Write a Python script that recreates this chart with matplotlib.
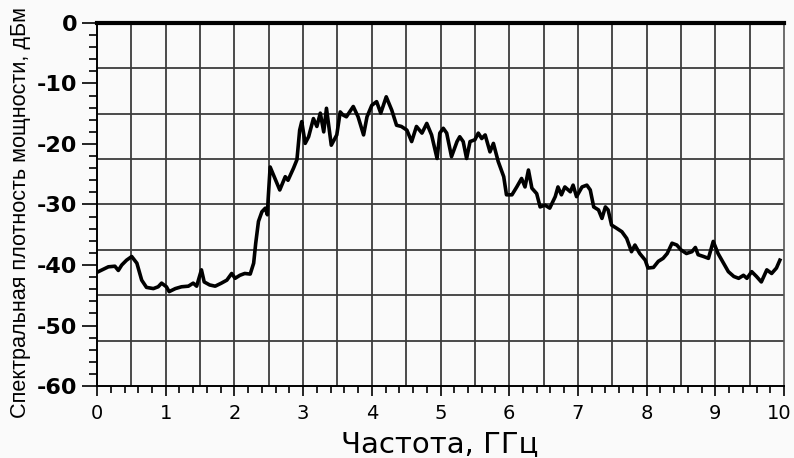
import matplotlib.pyplot as plt
from matplotlib.ticker import MultipleLocator
from matplotlib import font_manager
from matplotlib.transforms import ScaledTranslation

plt.rcParams['axes.unicode_minus'] = False

# Спектр: частота (ГГц) и спектральная плотность мощности (дБм)
freq = [0.02, 0.165, 0.26, 0.31, 0.36, 0.43, 0.505, 0.58, 0.65, 0.72, 0.82, 0.89,
        0.94, 1.01, 1.05, 1.14, 1.23, 1.33, 1.40, 1.45, 1.52, 1.56, 1.64, 1.72,
        1.81, 1.89, 1.96, 2.01, 2.08, 2.15, 2.23, 2.28, 2.31, 2.35, 2.40, 2.45,
        2.48, 2.49, 2.52, 2.59, 2.66, 2.74, 2.78, 2.86, 2.91, 2.95, 2.98, 3.03,
        3.08, 3.15, 3.20, 3.25, 3.30, 3.34, 3.41, 3.49, 3.54, 3.58, 3.63, 3.73,
        3.80, 3.88, 3.93, 4.00, 4.07, 4.13, 4.21, 4.29, 4.36, 4.43, 4.51, 4.58,
        4.65, 4.73, 4.80, 4.87, 4.95, 4.99, 5.04, 5.09, 5.16, 5.24, 5.28, 5.33,
        5.38, 5.43, 5.50, 5.55, 5.60, 5.65, 5.72, 5.77, 5.84, 5.92, 5.96, 6.04,
        6.11, 6.18, 6.23, 6.28, 6.33, 6.40, 6.45, 6.52, 6.59, 6.67, 6.71, 6.76,
        6.81, 6.89, 6.93, 6.98, 7.06, 7.13, 7.18, 7.23, 7.30, 7.35, 7.40, 7.44,
        7.49, 7.56, 7.64, 7.71, 7.78, 7.83, 7.90, 7.98, 8.02, 8.10, 8.17, 8.24,
        8.30, 8.37, 8.44, 8.50, 8.58, 8.66, 8.71, 8.75, 8.83, 8.90, 8.97, 9.04,
        9.12, 9.19, 9.27, 9.34, 9.41, 9.46, 9.53, 9.60, 9.67, 9.75, 9.82, 9.89,
        9.94]
psd = [-41.1, -40.3, -40.2, -40.9, -40.0, -39.2, -38.6, -39.7, -42.5, -43.7, -43.9, -43.6,
       -43.0, -43.6, -44.4, -43.9, -43.6, -43.5, -43.0, -43.5, -40.8, -42.8, -43.3, -43.5,
       -43.0, -42.5, -41.4, -42.2, -41.7, -41.4, -41.5, -39.7, -36.4, -32.8, -31.2, -30.6,
       -31.7, -29.3, -23.8, -25.7, -27.6, -25.4, -26.0, -24.0, -22.6, -17.7, -16.3, -19.9,
       -18.8, -15.8, -17.1, -14.9, -18.0, -14.1, -20.2, -18.5, -14.7, -15.2, -15.5, -13.8,
       -15.5, -18.5, -15.5, -13.6, -13.0, -14.9, -12.2, -14.4, -16.9, -17.1, -17.7, -19.6,
       -17.1, -18.2, -16.6, -18.5, -22.4, -18.2, -17.4, -18.2, -22.1, -19.6, -18.8, -19.6,
       -22.4, -19.6, -19.3, -18.2, -19.1, -18.5, -21.3, -19.9, -22.9, -25.4, -28.4, -28.4,
       -27.1, -25.7, -27.1, -24.3, -27.3, -28.2, -30.4, -30.1, -30.6, -28.7, -27.1, -28.4,
       -27.1, -27.9, -26.8, -28.7, -27.1, -26.8, -27.6, -30.4, -30.9, -32.3, -30.4, -30.9,
       -33.4, -33.9, -34.5, -35.6, -37.8, -36.7, -38.1, -39.2, -40.5, -40.4, -39.4, -38.9,
       -38.1, -36.4, -36.7, -37.5, -38.1, -37.8, -37.1, -38.3, -38.6, -38.9, -36.1, -38.1,
       -39.7, -41.1, -41.9, -42.2, -41.7, -42.2, -41.1, -41.9, -42.8, -40.8, -41.4, -40.5,
       -39.2]

x_ticks = [0, 1, 2, 3, 4, 5, 6, 7, 8, 9, 10]
y_ticks = [0, -10, -20, -30, -40, -50, -60]

names = {f.name for f in font_manager.fontManager.ttflist}
ylab_font = 'Liberation Sans Narrow' if 'Liberation Sans Narrow' in names else 'Liberation Sans'

bg = '#fafafa'
fig = plt.figure(figsize=(7.94, 4.58), dpi=100, facecolor=bg)
ax = fig.add_axes([0.1222, 0.1572, 0.8652, 0.7926], facecolor=bg)

# сетка: вертикальные линии через 0.5 ГГц, горизонтальные через 7.5 дБ
for gx in [0.5 * i for i in range(1, 20)]:
    ax.axvline(gx, color='#3c3c3c', lw=1.3, zorder=1)
for gy in [-7.5 * i for i in range(1, 8)]:
    ax.axhline(gy, color='#3c3c3c', lw=1.3, zorder=1)

ax.plot(freq, psd, color='black', lw=2.6, zorder=3)

ax.set_xlim(0, 10)
ax.set_ylim(-60, 0)
ax.set_xticks(x_ticks)
ax.set_yticks(y_ticks)
ax.xaxis.set_minor_locator(MultipleLocator(0.2))
ax.yaxis.set_minor_locator(MultipleLocator(2))

ax.tick_params(axis='x', which='major', length=7, width=1.2, labelsize=14, pad=6)
ax.tick_params(axis='x', which='minor', length=5, width=1.2)
ax.tick_params(axis='y', which='major', length=11, width=1.2, labelsize=16, pad=3)
ax.tick_params(axis='y', which='minor', length=6, width=1.2)
for lab in ax.get_yticklabels():
    lab.set_fontweight('bold')

# подпись "10" чуть левее, чтобы не уходила за край
last = ax.get_xticklabels()[-1]
last.set_transform(last.get_transform() + ScaledTranslation(-5 / 100, 0, fig.dpi_scale_trans))

ax.spines['top'].set_linewidth(3)
ax.spines['top'].set_color('black')
ax.spines['right'].set_color('#555555')
ax.spines['right'].set_linewidth(1.2)
ax.spines['left'].set_linewidth(1.4)
ax.spines['bottom'].set_linewidth(1.4)

fig.text(0.554, 0.013, 'Частота, ГГц', fontsize=21, ha='center', va='baseline')
fig.text(0.026, 0.537, 'Спектральная плотность мощности, дБм', fontsize=15.6,
         family=ylab_font, rotation=90, ha='center', va='center')

fig.savefig('out.png', dpi=100, facecolor=bg)
